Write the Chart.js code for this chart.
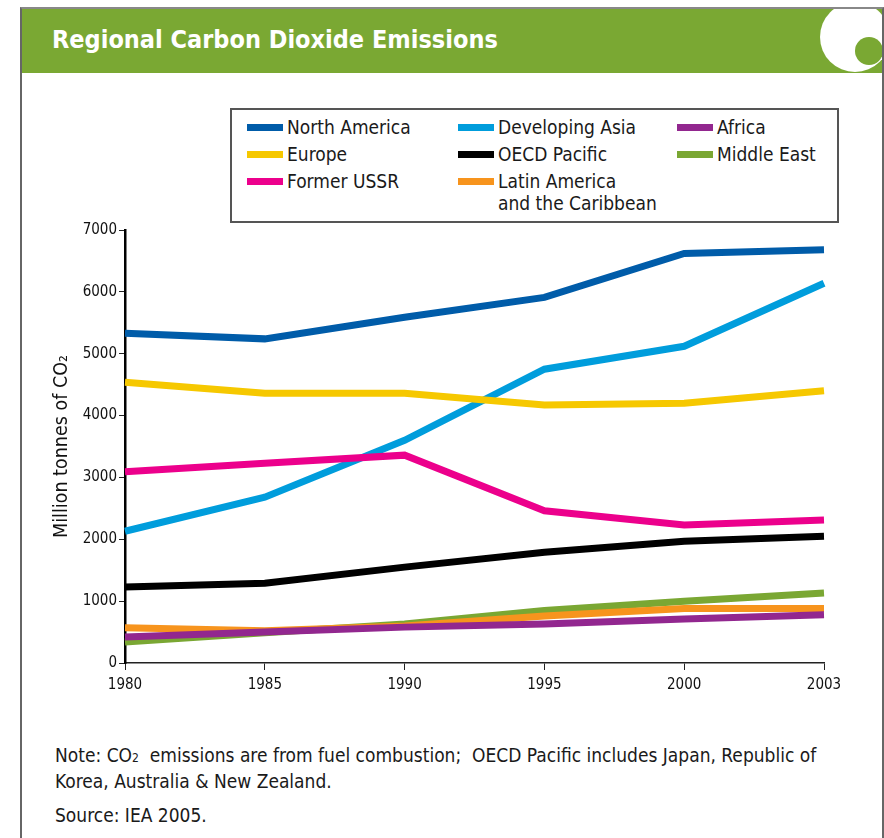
<!DOCTYPE html>
<html>
<head>
<meta charset="utf-8">
<script src="https://cdn.jsdelivr.net/npm/chart.js@4/dist/chart.umd.min.js"></script>
<style>
  body { margin: 0; width: 884px; height: 838px; background: #fff; position: relative; overflow: hidden;
         font-family: "Liberation Sans Narrow", "DejaVu Sans Condensed", sans-serif; color: #1a1a1a; }
  #frame { position: absolute; left: 20px; top: 7px; width: 860px; height: 840px;
           border-left: 2px solid #666; border-top: 2px solid #888; border-right: 2px solid #666; }
  #header { position: absolute; left: 22px; top: 9px; width: 860px; height: 64px; background: #7aa833; overflow: hidden; }
  #header h1 { margin: 0; position: absolute; left: 30px; top: 16px; font-size: 25px; font-weight: bold; color: #fff;
               font-family: "Liberation Sans Narrow", "DejaVu Sans Condensed", sans-serif; }
  #header svg { position: absolute; left: 0; top: 0; }
  #legend { position: absolute; left: 230px; top: 108px; width: 605px; height: 111px; border: 2px solid #555; }
  .item { position: absolute; font-size: 19px; line-height: 22px; }
  .item .swatch { position: absolute; left: -40px; top: 8px; width: 36px; height: 7px; }
  #wrap { position: absolute; left: 0; top: 200px; width: 884px; height: 520px; }
  .note { position: absolute; left: 55px; font-size: 19px; line-height: 26px; }
  sub { font-size: 12px; vertical-align: baseline; }
</style>
</head>
<body>
<div id="frame"></div>
<div id="header">
  <h1>Regional Carbon Dioxide Emissions</h1>
  <svg width="860" height="64">
    <circle cx="833" cy="28" r="35" fill="#fff"/>
    <circle cx="847" cy="42" r="14" fill="#7aa833"/>
  </svg>
</div>
<div id="legend"></div>
<div id="wrap"><canvas id="co2Chart"></canvas></div>
<div class="note" style="top:742px">Note: CO<sub>2</sub>&nbsp; emissions are from fuel combustion;&nbsp; OECD Pacific includes Japan, Republic of</div>
<div class="note" style="top:768px">Korea, Australia &amp; New Zealand.</div>
<div class="note" style="top:802px">Source: IEA 2005.</div>
<script>
const years = ['1980', '1985', '1990', '1995', '2000', '2003'];

// million tonnes of CO2 per region
const northAmerica  = [5330, 5240, 5590, 5910, 6620, 6680];
const developingAsia = [2130, 2680, 3600, 4750, 5120, 6140];
const europe        = [4540, 4360, 4360, 4170, 4200, 4400];
const formerUSSR    = [3090, 3230, 3360, 2460, 2230, 2310];
const oecdPacific   = [1230, 1290, 1550, 1790, 1970, 2050];
const middleEast    = [340, 490, 630, 850, 1000, 1130];
const latinAmerica  = [570, 520, 600, 760, 880, 880];
const africa        = [420, 500, 580, 630, 710, 780];

const yTicks = [0, 1000, 2000, 3000, 4000, 5000, 6000, 7000];

// legend layout: three columns, read across
const legendItems = [
    { name: 'North America', color: '#005ca9', col: 0, row: 0 },
    { name: 'Developing Asia', color: '#009ddc', col: 1, row: 0 },
    { name: 'Africa', color: '#92278f', col: 2, row: 0 },
    { name: 'Europe', color: '#f6c800', col: 0, row: 1 },
    { name: 'OECD Pacific', color: '#000000', col: 1, row: 1 },
    { name: 'Middle East', color: '#7aa733', col: 2, row: 1 },
    { name: 'Former USSR', color: '#ec008c', col: 0, row: 2 },
    { name: 'Latin America<br>and the Caribbean', color: '#f7941d', col: 1, row: 2 }
];

const legend = document.getElementById('legend');
const colX = [55, 266, 485];
legendItems.forEach(it => {
    const el = document.createElement('div');
    el.className = 'item';
    el.style.left = colX[it.col] + 'px';
    el.style.top = (6 + it.row * 27) + 'px';
    el.innerHTML = '<span class="swatch" style="background:' + it.color + '"></span>' + it.name;
    legend.appendChild(el);
});

const series = {
    'North America': northAmerica,
    'Developing Asia': developingAsia,
    'Europe': europe,
    'Former USSR': formerUSSR,
    'OECD Pacific': oecdPacific,
    'Middle East': middleEast,
    'Latin America and the Caribbean': latinAmerica,
    'Africa': africa
};
const colors = {
    'North America': '#005ca9',
    'Developing Asia': '#009ddc',
    'Europe': '#f6c800',
    'Former USSR': '#ec008c',
    'OECD Pacific': '#000000',
    'Middle East': '#7aa733',
    'Latin America and the Caribbean': '#f7941d',
    'Africa': '#92278f'
};
// first dataset ends up on top
const drawOrder = ['Africa', 'Latin America and the Caribbean', 'Middle East', 'OECD Pacific',
                   'Former USSR', 'Europe', 'Developing Asia', 'North America'];

const font = '"Liberation Sans Narrow", "DejaVu Sans Condensed", sans-serif';

const ctx = document.getElementById('co2Chart').getContext('2d');
new Chart(ctx, {
    type: 'line',
    data: {
        labels: years,
        datasets: drawOrder.map(name => ({
            label: name,
            data: series[name],
            borderColor: colors[name],
            backgroundColor: colors[name],
            borderWidth: 7,
            pointRadius: 0,
            tension: 0,
            fill: false
        }))
    },
    options: {
        responsive: true,
        maintainAspectRatio: false,
        animation: false,
        layout: { padding: { top: 30, right: 60, bottom: 0, left: 0 } },
        plugins: { legend: { display: false }, tooltip: { enabled: false } },
        scales: {
            x: {
                grid: { drawOnChartArea: false, drawTicks: true, tickLength: 7, color: '#222' },
                border: { display: true, color: '#222', width: 1.5 },
                ticks: { color: '#111', font: { family: font, size: 15 }, padding: 6, maxRotation: 0 },
                afterFit: s => { s.height = 57; }
            },
            y: {
                min: 0,
                max: 7000,
                afterBuildTicks: s => { s.ticks = yTicks.map(v => ({ value: v })); },
                grid: { drawOnChartArea: false, drawTicks: true, tickLength: 6, color: '#222' },
                border: { display: true, color: '#000', width: 2.5 },
                ticks: { color: '#111', font: { family: font, size: 15 }, padding: 2, callback: v => v },
                title: { display: true, text: 'Million tonnes of CO₂', color: '#111',
                         font: { family: font, size: 19.5 }, padding: { top: 50, bottom: 0 } },
                afterFit: s => { s.width = 125; }
            }
        }
    }
});
</script>
</body>
</html>
